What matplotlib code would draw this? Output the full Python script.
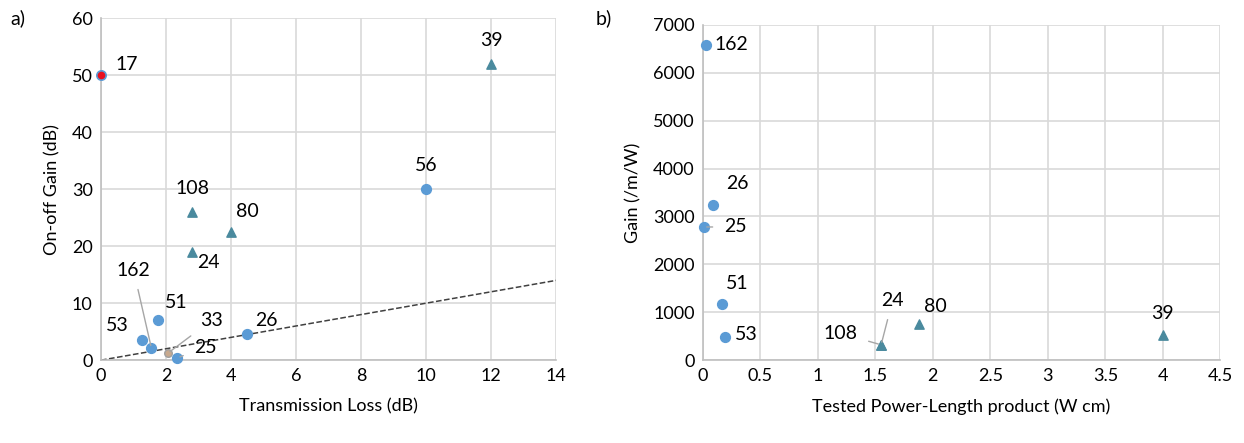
import matplotlib
matplotlib.use('Agg')
import matplotlib.pyplot as plt

plt.rcParams['font.family'] = ['Lato', 'DejaVu Sans']

# panel a) transmission loss vs on-off gain
refs_a = ['17', '39', '56', '108', '80', '24', '162', '51', '53', '33', '25', '26']
loss_a = [0.0, 12.0, 10.0, 2.8, 4.0, 2.8, 1.55, 1.75, 1.25, 2.05, 2.35, 4.5]
gain_a = [50.0, 52.0, 30.0, 26.0, 22.5, 19.0, 2.1, 7.0, 3.5, 1.2, 0.4, 4.6]
kind_a = ['red', 'tri', 'dot', 'tri', 'tri', 'tri', 'dot', 'dot', 'dot', 'beige', 'dot', 'dot']
# label anchor (data coords) and whether a leader line is drawn
lab_a = [(0.8, 51.8), (12.0, 56), (10.0, 34.2), (2.8, 30.2), (4.5, 26), (3.3, 17.2),
         (1.0, 15.8), (2.3, 10.2), (0.5, 6.0), (3.4, 7.0), (3.2, 2.3), (5.1, 7.0)]
lead_a = [False, False, False, False, False, False, True, False, False, True, True, False]

# panel b) tested power-length product vs gain
refs_b = ['162', '26', '25', '51', '53', '108', '24', '80', '39']
pl_b = [0.03, 0.09, 0.01, 0.165, 0.19, 1.55, 1.55, 1.88, 4.0]
gain_b = [6580, 3240, 2780, 1170, 480, 320, 320, 750, 520]
kind_b = ['dot', 'dot', 'dot', 'dot', 'dot', 'tri', 'tri', 'tri', 'tri']
lab_b = [(0.25, 6580), (0.30, 3680), (0.28, 2780), (0.30, 1610), (0.38, 540),
         (1.2, 560), (1.65, 1250), (2.02, 1130), (4.0, 980)]
lead_b = [False, False, True, False, False, True, True, False, False]

styles = {
    'dot': dict(marker='o', s=50, color='#5B9BD5', edgecolors='#5B9BD5'),
    'tri': dict(marker='^', s=45, color='#4A8A9E', edgecolors='#4A8A9E'),
    'red': dict(marker='o', s=45, color='#E8101E', edgecolors='#5B9BD5', linewidths=1.2),
    'beige': dict(marker='o', s=30, color='#C8A98E', edgecolors='#A0A0A0', linewidths=1),
}


def setup(ax):
    ax.grid(True, color='#D9D9D9', linewidth=1.2)
    ax.set_axisbelow(True)
    for s in ['top', 'right']:
        ax.spines[s].set_visible(False)
    for s in ['left', 'bottom']:
        ax.spines[s].set_color('#BFBFBF')
        ax.spines[s].set_linewidth(1.2)
    ax.tick_params(length=0, labelsize=13, pad=6, colors='#404040')
    ax.tick_params(labelcolor='black')


def draw(ax, xs, ys, kinds, refs, labs, leads):
    for x, y, k, r, (tx, ty), ld in zip(xs, ys, kinds, refs, labs, leads):
        ax.scatter([x], [y], zorder=3, clip_on=False, **styles[k])
        if ld:
            ax.annotate(r, xy=(x, y), xytext=(tx, ty), ha='center', va='center',
                        fontsize=14, arrowprops=dict(arrowstyle='-', color='#A6A6A6',
                                                     lw=1, shrinkA=6, shrinkB=2))
        else:
            ax.text(tx, ty, r, ha='center', va='center', fontsize=14)


fig = plt.figure(figsize=(12.44, 4.43), dpi=100)
ax1 = fig.add_axes([0.0812, 0.187, 0.366, 0.772])
ax2 = fig.add_axes([0.565, 0.187, 0.416, 0.757])

setup(ax1)
ax1.set_xlim(0, 14)
ax1.set_ylim(0, 60)
ax1.set_xticks(range(0, 15, 2))
ax1.set_yticks(range(0, 61, 10))
ax1.plot([0, 14], [0, 14], '--', color='#404040', lw=1.1, zorder=2)
draw(ax1, loss_a, gain_a, kind_a, refs_a, lab_a, lead_a)
ax1.set_xlabel('Transmission Loss (dB)', fontsize=13, labelpad=10)
ax1.set_ylabel('On-off Gain (dB)', fontsize=13, labelpad=8)

setup(ax2)
ax2.set_xlim(0, 4.5)
ax2.set_ylim(0, 7000)
ax2.set_xticks([0, 0.5, 1, 1.5, 2, 2.5, 3, 3.5, 4, 4.5])
ax2.set_xticklabels(['0', '0.5', '1', '1.5', '2', '2.5', '3', '3.5', '4', '4.5'])
ax2.set_yticks(range(0, 7001, 1000))
draw(ax2, pl_b, gain_b, kind_b, refs_b, lab_b, lead_b)
ax2.set_xlabel('Tested Power-Length product (W cm)', fontsize=13, labelpad=10)
ax2.set_ylabel('Gain (/m/W)', fontsize=13, labelpad=8)

fig.text(0.008, 0.945, 'a)', fontsize=14)
fig.text(0.479, 0.945, 'b)', fontsize=14)

fig.savefig('out.png', dpi=100)
